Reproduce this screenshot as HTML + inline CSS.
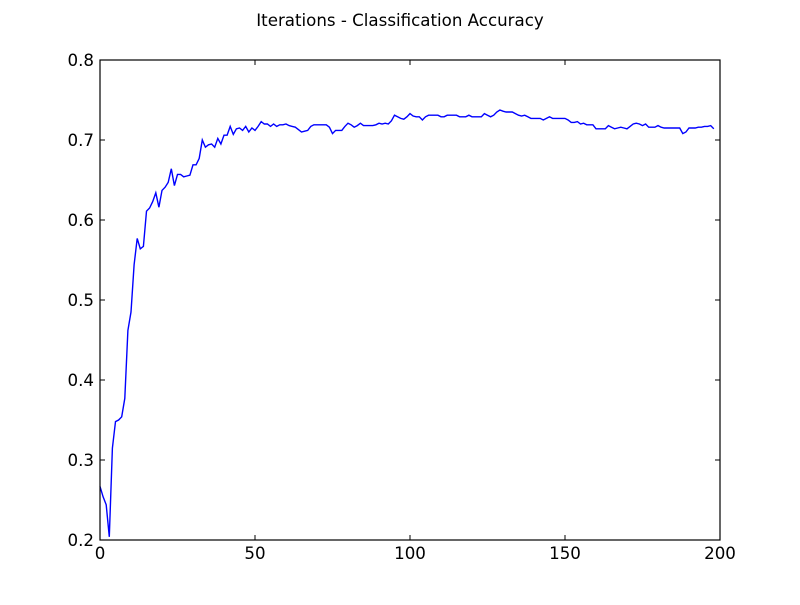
<!DOCTYPE html>
<html><head><meta charset="utf-8"><style>
body{margin:0;background:#fff;}
svg text{font-family:"DejaVu Sans","Liberation Sans",sans-serif;font-size:16.67px;fill:#000;}
</style></head><body>
<svg id="chart" width="800" height="600" xmlns="http://www.w3.org/2000/svg">
<rect width="800" height="600" fill="#fff"/>
<text x="400" y="26" text-anchor="middle">Iterations - Classification Accuracy</text>
<g id="plot"></g>
</svg>
<script>
const xTicks=[0,50,100,150,200];
const yTicks=[0.2,0.3,0.4,0.5,0.6,0.7,0.8];
const yTickLabels=["0.2","0.3","0.4","0.5","0.6","0.7","0.8"];
const accuracy=[0.267,0.254,0.244,0.204,0.315,0.348,0.350,0.354,0.377,0.462,
0.485,0.544,0.577,0.564,0.567,0.611,0.615,0.623,0.634,0.616,
0.637,0.641,0.647,0.664,0.643,0.657,0.657,0.654,0.655,0.656,
0.669,0.669,0.677,0.700,0.691,0.694,0.695,0.691,0.702,0.695,
0.706,0.706,0.717,0.707,0.714,0.715,0.712,0.717,0.710,0.715,
0.712,0.717,0.723,0.720,0.720,0.717,0.720,0.717,0.719,0.719,
0.720,0.718,0.717,0.716,0.713,0.710,0.711,0.712,0.717,0.719,
0.719,0.719,0.719,0.719,0.716,0.708,0.712,0.712,0.712,0.717,
0.721,0.719,0.716,0.718,0.721,0.718,0.718,0.718,0.718,0.719,
0.721,0.720,0.721,0.720,0.724,0.731,0.729,0.727,0.726,0.729,
0.733,0.730,0.729,0.729,0.725,0.729,0.731,0.731,0.731,0.731,
0.729,0.729,0.731,0.731,0.731,0.731,0.729,0.729,0.729,0.731,
0.729,0.729,0.729,0.729,0.733,0.731,0.729,0.731,0.735,0.7375,
0.736,0.735,0.735,0.735,0.733,0.731,0.730,0.731,0.729,0.727,
0.727,0.727,0.727,0.725,0.727,0.729,0.727,0.727,0.727,0.727,
0.727,0.725,0.722,0.722,0.723,0.720,0.721,0.719,0.719,0.719,
0.714,0.714,0.714,0.714,0.718,0.716,0.714,0.715,0.716,0.715,
0.714,0.717,0.720,0.721,0.720,0.718,0.720,0.716,0.716,0.716,
0.718,0.716,0.715,0.715,0.715,0.715,0.715,0.715,0.708,0.710,
0.715,0.715,0.715,0.716,0.716,0.717,0.717,0.718,0.714];
const L=100,R=720,T=60,B=540;
const xs=v=>L+(v-0)/(200-0)*(R-L);
const ys=v=>B-(v-0.2)/(0.8-0.2)*(B-T);
const g=document.getElementById('plot');
const NS='http://www.w3.org/2000/svg';
function mk(t,a){const e=document.createElementNS(NS,t);for(const k in a)e.setAttribute(k,a[k]);g.appendChild(e);return e;}
const line=mk('polyline',{points:accuracy.map((v,i)=>xs(i)+','+ys(v)).join(' '),fill:'none',stroke:'#0000ff','stroke-width':1.4});


const frame=mk('rect',{x:L,y:T,width:R-L,height:B-T,fill:'none',stroke:'#000','stroke-width':1.2});


xTicks.forEach(t=>{const x=xs(t);
 const a=mk('line',{x1:x,x2:x,y1:B,y2:B-5,stroke:'#000'});
 
 
 const b=mk('line',{x1:x,x2:x,y1:T,y2:T+5,stroke:'#000'});
 
 
 const tx=mk('text',{x:x,y:B+19,'text-anchor':'middle'});tx.textContent=String(t);
 
 
});
yTicks.forEach((t,i)=>{const y=ys(t);
 const a=mk('line',{x1:L,x2:L+5,y1:y,y2:y,stroke:'#000'});
 
 
 const b=mk('line',{x1:R,x2:R-5,y1:y,y2:y,stroke:'#000'});
 
 
 const tx=mk('text',{x:L-6,y:y+6,'text-anchor':'end'});tx.textContent=yTickLabels[i];
 
 
});
</script>
</body></html>
